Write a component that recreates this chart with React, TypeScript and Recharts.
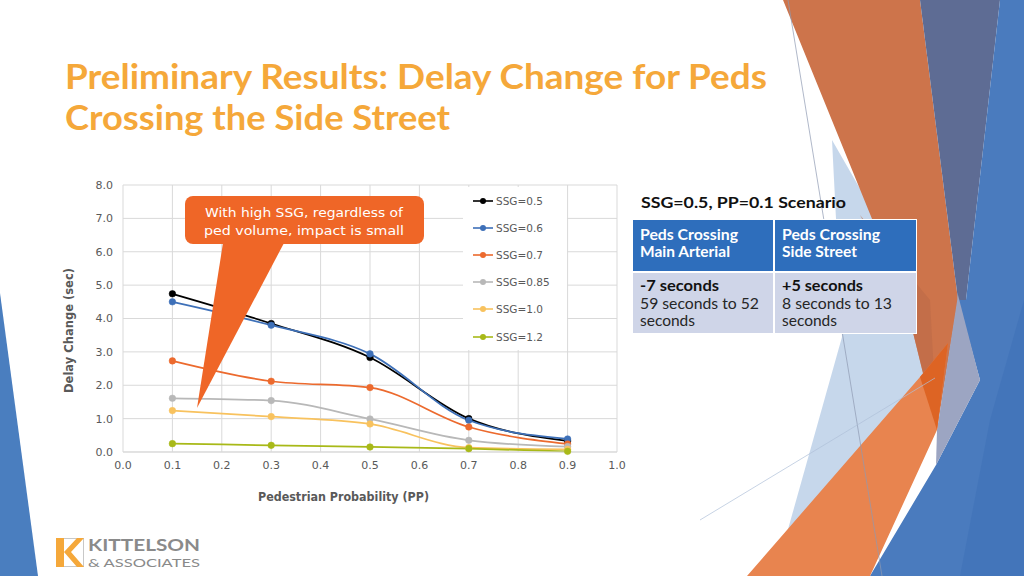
import React from 'react';
import { LineChart, Line, XAxis, YAxis, CartesianGrid, Legend } from 'recharts';

// ---------- data ----------
const pedProbability = [0.1, 0.3, 0.5, 0.7, 0.9];
const ssg05 = [4.74, 3.85, 2.83, 1.0, 0.33];
const ssg06 = [4.5, 3.8, 2.94, 0.95, 0.39];
const ssg07 = [2.73, 2.12, 1.93, 0.75, 0.24];
const ssg085 = [1.61, 1.54, 0.99, 0.35, 0.16];
const ssg10 = [1.24, 1.06, 0.84, 0.13, 0.08];
const ssg12 = [0.25, 0.2, 0.15, 0.1, 0.02];
const seriesNames = ['SSG=0.5', 'SSG=0.6', 'SSG=0.7', 'SSG=0.85', 'SSG=1.0', 'SSG=1.2'];
const seriesValues = [ssg05, ssg06, ssg07, ssg085, ssg10, ssg12];
const seriesColors = ['#000000', '#3E70B8', '#EC6A2E', '#B8B8B8', '#F8C25E', '#A8B918'];
const xTicks = [0, 0.1, 0.2, 0.3, 0.4, 0.5, 0.6, 0.7, 0.8, 0.9, 1.0];
const yTicks = [0, 1, 2, 3, 4, 5, 6, 7, 8];

const data = pedProbability.map((pp, i) => {
  const row: Record<string, number> = { pp };
  seriesNames.forEach((n, j) => {
    row[n] = seriesValues[j][i];
  });
  return row;
});

const SMALL = "'DejaVu Sans', sans-serif";
const HEAD = "Lato, 'DejaVu Sans', sans-serif";
const GRAY = '#595959';

const renderLegend = (props: any) => {
  const payload = props.payload || [];
  return (
    <div style={{ background: '#fff', width: 104, height: 163, boxSizing: 'border-box', paddingLeft: 9 }}>
      {payload.map((e: any) => (
        <div key={e.value} style={{ height: 27.2, display: 'flex', alignItems: 'center' }}>
          <svg width={22} height={10} style={{ display: 'block' }}>
            <line x1={1} y1={5} x2={21} y2={5} stroke={e.color} strokeWidth={1.6} />
            <circle cx={11} cy={5} r={3} fill={e.color} />
          </svg>
          <span style={{ fontFamily: SMALL, fontSize: 10.5, color: GRAY, marginLeft: 2, lineHeight: '12px' }}>
            {e.value}
          </span>
        </div>
      ))}
    </div>
  );
};

export default function App() {
  return (
    <div
      style={{
        position: 'absolute',
        left: 0,
        top: 0,
        width: 1024,
        height: 576,
        overflow: 'hidden',
        background: '#ffffff',
      }}
    >
      {/* background decorations, title, logo */}
      <svg width={1024} height={576} style={{ position: 'absolute', left: 0, top: 0 }}>
        {/* left blue */}
        <polygon points="0,293 38,576 0,576" fill="#4A7EBF" />
        {/* right shapes */}
        <polygon points="832,140 950,345 785,540 842,337" fill="#BCD0E8" opacity={0.85} />
        <polygon points="783,0 920,0 958,300 937,430 905,300" fill="#CD744B" />
        <polygon points="860,215 905,300 937,430 930,300" fill="#BD6A48" opacity={0.6} />
        <polygon points="920,0 1000,0 966,300 958,300" fill="#5E6C94" />
        <polygon points="958,300 966,300 1000,0 1024,0 1024,576 870,576 936,465 980,380" fill="#4A7BBE" />
        <polygon points="958,295 980,380 936,465 937,430" fill="#9CA5C2" />
        <polygon points="1024,300 1024,576 960,576 990,420" fill="#3F72B8" opacity={0.6} />
        <polygon points="747,576 920,377 948,343 937,430 870,576" fill="#E8844F" />
        <polygon points="920,377 948,343 937,430" fill="#DD6424" />
        <line x1={788} y1={0} x2={882} y2={576} stroke="#8E9AB2" strokeWidth={0.7} />
        <line x1={700} y1={520} x2={935} y2={378} stroke="#AFC0D8" strokeWidth={0.7} />

        {/* title */}
        <text x={65} y={89} fontFamily={HEAD} fontWeight={700} fontSize={34} fill="#F5A83A" textLength={702} lengthAdjust="spacingAndGlyphs">
          Preliminary Results: Delay Change for Peds
        </text>
        <text x={65} y={130} fontFamily={HEAD} fontWeight={700} fontSize={34} fill="#F5A83A" textLength={385} lengthAdjust="spacingAndGlyphs">
          Crossing the Side Street
        </text>

        {/* logo */}
        <rect x={56.5} y={538.5} width={27} height={28} fill="none" stroke="#C8C8C8" strokeWidth={1} />
        <rect x={56} y={538} width={8} height={29} fill="#F5A83A" />
        <polygon points="64,552 77,538 84,538 71,552 84,567 77,567" fill="#F5A83A" />
        <text x={88} y={551} fontFamily={HEAD} fontWeight={700} fontSize={17} fill="#8A8A8A" textLength={112} lengthAdjust="spacingAndGlyphs">
          KITTELSON
        </text>
        <text x={88} y={567} fontFamily={HEAD} fontSize={12} fill="#8A8A8A" textLength={112} lengthAdjust="spacingAndGlyphs">
          &amp; ASSOCIATES
        </text>
      </svg>

      {/* chart */}
      <div style={{ position: 'absolute', left: 0, top: 0 }}>
        <LineChart width={640} height={520} data={data} margin={{ top: 185, right: 23, bottom: 38, left: 83 }}>
          <CartesianGrid stroke="#D9D9D9" strokeWidth={1} />
          <XAxis
            dataKey="pp"
            type="number"
            domain={[0, 1]}
            ticks={xTicks}
            interval={0}
            tickFormatter={(v: number) => v.toFixed(1)}
            tickSize={0}
            tickMargin={9}
            height={30}
            axisLine={{ stroke: '#D9D9D9' }}
            tick={{ fontFamily: SMALL, fontSize: 11, fill: GRAY }}
          />
          <YAxis
            type="number"
            domain={[0, 8]}
            ticks={yTicks}
            interval={0}
            tickFormatter={(v: number) => v.toFixed(1)}
            tickSize={0}
            tickMargin={10}
            width={40}
            axisLine={false}
            tick={{ fontFamily: SMALL, fontSize: 11, fill: GRAY }}
          />
          <Legend
            layout="vertical"
            align="center"
            verticalAlign="middle"
            content={renderLegend}
            wrapperStyle={{ left: 463, top: 187, width: 104, height: 163 }}
          />
          {seriesNames.map((n, j) => (
            <Line
              key={n}
              type="monotone"
              dataKey={n}
              name={n}
              stroke={seriesColors[j]}
              strokeWidth={1.75}
              dot={{ r: 3.3, fill: seriesColors[j], stroke: seriesColors[j], strokeWidth: 0.5 }}
              activeDot={false}
              isAnimationActive={false}
            />
          ))}
        </LineChart>
      </div>

      {/* overlay: callout, axis titles, table */}
      <svg width={1024} height={576} style={{ position: 'absolute', left: 0, top: 0, pointerEvents: 'none' }}>
        <text x={343.5} y={501} textAnchor="middle" fontFamily={SMALL} fontWeight={700} fontSize={11.5} fill={GRAY} textLength={171} lengthAdjust="spacingAndGlyphs">
          Pedestrian Probability (PP)
        </text>
        <text transform="translate(73,330.5) rotate(-90)" textAnchor="middle" fontFamily={SMALL} fontWeight={700} fontSize={12} fill={GRAY} textLength={125} lengthAdjust="spacingAndGlyphs">
          Delay Change (sec)
        </text>

        {/* callout */}
        <rect x={185} y={196} width={239} height={48} rx={8} fill="#EF6627" />
        <polygon points="223,243 284,243 197,408" fill="#EF6627" />
        <text x={304} y={217} textAnchor="middle" fontFamily={SMALL} fontSize={13} fill="#ffffff" textLength={198} lengthAdjust="spacingAndGlyphs">
          With high SSG, regardless of
        </text>
        <text x={304} y={235} textAnchor="middle" fontFamily={SMALL} fontSize={13} fill="#ffffff" textLength={200} lengthAdjust="spacingAndGlyphs">
          ped volume, impact is small
        </text>

        {/* table */}
        <text x={641} y={208} fontFamily={HEAD} fontWeight={700} fontSize={16} fill="#111111" textLength={205} lengthAdjust="spacingAndGlyphs">
          SSG=0.5, PP=0.1 Scenario
        </text>
        <rect x={632} y={219} width={285} height={115} fill="#ffffff" />
        <rect x={633} y={220} width={140} height={51} fill="#2E6EBC" />
        <rect x={775} y={220} width={141} height={51} fill="#2E6EBC" />
        <rect x={633} y={273} width={140} height={60} fill="#CFD5E8" />
        <rect x={775} y={273} width={141} height={60} fill="#CFD5E8" />

        <text x={640} y={240} fontFamily={HEAD} fontWeight={700} fontSize={15} fill="#ffffff" textLength={98} lengthAdjust="spacingAndGlyphs">Peds Crossing</text>
        <text x={640} y={257} fontFamily={HEAD} fontWeight={700} fontSize={15} fill="#ffffff" textLength={90} lengthAdjust="spacingAndGlyphs">Main Arterial</text>
        <text x={782} y={240} fontFamily={HEAD} fontWeight={700} fontSize={15} fill="#ffffff" textLength={98} lengthAdjust="spacingAndGlyphs">Peds Crossing</text>
        <text x={782} y={257} fontFamily={HEAD} fontWeight={700} fontSize={15} fill="#ffffff" textLength={75} lengthAdjust="spacingAndGlyphs">Side Street</text>

        <text x={640} y={291} fontFamily={HEAD} fontWeight={700} fontSize={15} fill="#111111" textLength={79} lengthAdjust="spacingAndGlyphs">-7 seconds</text>
        <text x={640} y={309} fontFamily={HEAD} fontSize={15} fill="#262626" textLength={119} lengthAdjust="spacingAndGlyphs">59 seconds to 52</text>
        <text x={640} y={326} fontFamily={HEAD} fontSize={15} fill="#262626" textLength={55} lengthAdjust="spacingAndGlyphs">seconds</text>
        <text x={782} y={291} fontFamily={HEAD} fontWeight={700} fontSize={15} fill="#111111" textLength={81} lengthAdjust="spacingAndGlyphs">+5 seconds</text>
        <text x={782} y={309} fontFamily={HEAD} fontSize={15} fill="#262626" textLength={110} lengthAdjust="spacingAndGlyphs">8 seconds to 13</text>
        <text x={782} y={326} fontFamily={HEAD} fontSize={15} fill="#262626" textLength={55} lengthAdjust="spacingAndGlyphs">seconds</text>
      </svg>
    </div>
  );
}
